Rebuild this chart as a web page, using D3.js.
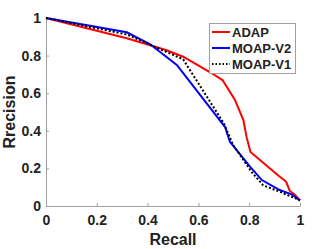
<!DOCTYPE html>
<html>
<head>
<meta charset="utf-8">
<script src="https://cdn.jsdelivr.net/npm/d3@7"></script>
<style>
  body { margin: 0; background: #fff; }
  text { font-family: "Liberation Sans", Arial, sans-serif; font-weight: bold; fill: #222; }
</style>
</head>
<body>
<div id="chart"></div>
<script>
// values
adapRecall = [0, 0.318, 0.472, 0.54, 0.643, 0.695, 0.744, 0.777, 0.79, 0.805, 0.918, 0.945, 0.96, 0.98, 1];
adapPrecision = [1, 0.892, 0.83, 0.794, 0.714, 0.67, 0.564, 0.457, 0.365, 0.287, 0.158, 0.13, 0.08, 0.06, 0.03];

v2Recall = [0, 0.318, 0.41, 0.515, 0.705, 0.724, 0.803, 0.85, 0.92, 0.967, 1];
v2Precision = [1, 0.924, 0.86, 0.75, 0.42, 0.342, 0.209, 0.138, 0.085, 0.062, 0.03];

v1Recall = [0, 0.32, 0.54, 0.70, 0.737, 0.81, 0.855, 0.92, 1];
v1Precision = [1, 0.912, 0.78, 0.44, 0.324, 0.18, 0.11, 0.076, 0.03];

tickValues = [0, 0.2, 0.4, 0.6, 0.8, 1];
tickLabels = ["0", "0.2", "0.4", "0.6", "0.8", "1"];

seriesNames = ["ADAP", "MOAP-V2", "MOAP-V1"];
seriesColors = ["#ff0000", "#0000ff", "#000000"];

function zipPoints(rs, ps) {
    return rs.map((r, i) => ({ r: r, p: ps[i] }));
}

var series = [
    { name: seriesNames[0], color: seriesColors[0], dash: null, pts: zipPoints(adapRecall, adapPrecision) },
    { name: seriesNames[1], color: seriesColors[1], dash: null, pts: zipPoints(v2Recall, v2Precision) },
    { name: seriesNames[2], color: seriesColors[2], dash: "2,2", pts: zipPoints(v1Recall, v1Precision) }
];

var width = 332, height = 249;

var svg = d3.select("#chart").append("svg")
    .attr("width", width)
    .attr("height", height);

var x = d3.scaleLinear().domain([0, 1]).range([46, 300]);
var y = d3.scaleLinear().domain([0, 1]).range([206, 18]);

var fmt = d => tickLabels[tickValues.indexOf(d)];

var xAxis = svg.append("g")
    .attr("transform", "translate(0," + y(0) + ")")
    .call(d3.axisBottom(x).tickValues(tickValues).tickFormat(fmt).tickSizeInner(-3).tickSizeOuter(0).tickPadding(8));

var yAxis = svg.append("g")
    .attr("transform", "translate(" + x(0) + ",0)")
    .call(d3.axisLeft(y).tickValues(tickValues).tickFormat(fmt).tickSizeInner(-3).tickSizeOuter(0).tickPadding(5));

svg.selectAll(".domain, .tick line").attr("stroke", "#a0a0a0").attr("stroke-width", 1);
svg.selectAll(".tick text").style("font-size", "14px").attr("fill", "#222");
xAxis.selectAll(".tick text").attr("dy", "0.75em");

var line = d3.line()
    .x(d => x(d.r))
    .y(d => y(d.p));

svg.selectAll("path.curve")
    .data(series)
    .enter()
    .append("path")
    .attr("class", "curve")
    .attr("d", d => line(d.pts))
    .attr("fill", "none")
    .attr("stroke", d => d.color)
    .attr("stroke-width", 2)
    .attr("stroke-dasharray", d => d.dash);

// axis titles
svg.append("text")
    .attr("x", x(0.5))
    .attr("y", 245)
    .attr("text-anchor", "middle")
    .style("font-size", "16px")
    .text("Recall");

svg.append("text")
    .attr("transform", "translate(15," + y(0.5) + ") rotate(-90)")
    .attr("text-anchor", "middle")
    .style("font-size", "16px")
    .text("Rrecision");

// legend
var legend = svg.append("g");
legend.append("rect")
    .attr("x", 209.5)
    .attr("y", 23.5)
    .attr("width", 86)
    .attr("height", 50)
    .attr("fill", "#fff")
    .attr("stroke", "#a0a0a0");

var items = legend.selectAll("g.item")
    .data(series)
    .enter()
    .append("g")
    .attr("class", "item")
    .attr("transform", (d, i) => "translate(0," + (32 + i * 16) + ")");

items.append("line")
    .attr("x1", 212)
    .attr("x2", 230)
    .attr("stroke", d => d.color)
    .attr("stroke-width", 2)
    .attr("stroke-dasharray", d => d.dash ? "1.5,2" : null);

items.append("text")
    .attr("x", 232)
    .attr("dy", "0.36em")
    .style("font-size", "13px")
    .text(d => d.name);
</script>
</body>
</html>
